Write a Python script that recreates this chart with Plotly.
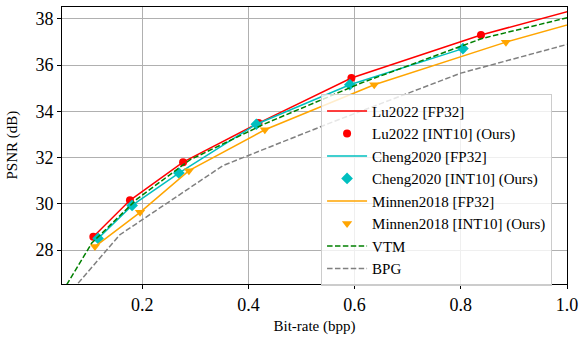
import plotly.graph_objects as go

# ---- data ----
lu_fp32_x = [0.108, 0.177, 0.277, 0.419, 0.594, 0.838, 1.08]
lu_fp32_y = [28.57, 30.15, 31.80, 33.49, 35.44, 37.30, 38.80]
lu_int10_x = [0.108, 0.177, 0.277, 0.419, 0.594, 0.838]
lu_int10_y = [28.57, 30.15, 31.80, 33.49, 35.44, 37.30]

cheng_fp32_x = [0.117, 0.181, 0.269, 0.415, 0.591, 0.804]
cheng_fp32_y = [28.50, 29.93, 31.33, 33.44, 35.15, 36.71]
cheng_int10_x = [0.117, 0.181, 0.269, 0.415, 0.591, 0.804]
cheng_int10_y = [28.50, 29.93, 31.33, 33.44, 35.15, 36.71]

minnen_fp32_x = [0.111, 0.196, 0.288, 0.431, 0.637, 0.885, 1.08]
minnen_fp32_y = [28.15, 29.63, 31.43, 33.20, 35.15, 36.99, 38.25]
minnen_int10_x = [0.111, 0.196, 0.288, 0.431, 0.637, 0.885]
minnen_int10_y = [28.15, 29.63, 31.43, 33.20, 35.15, 36.99]

vtm_x = [0.05, 0.105, 0.19, 0.29, 0.43, 0.61, 0.84, 1.10]
vtm_y = [26.20, 28.30, 30.20, 31.90, 33.45, 35.20, 37.15, 38.60]

bpg_x = [0.06, 0.158, 0.352, 0.56, 0.80, 1.05]
bpg_y = [26.05, 28.66, 31.65, 33.55, 35.65, 37.20]

x_ticks = [0.2, 0.4, 0.6, 0.8, 1.0]
x_tick_labels = ["0.2", "0.4", "0.6", "0.8", "1.0"]
y_ticks = [28, 30, 32, 34, 36, 38]

FONT = "Liberation Serif"
RED, CYAN, ORANGE, GREEN, GRAY = "#ff0000", "#00bfbf", "#ffa500", "#008000", "#808080"
DASH = "5.5px,2.4px"

fig = go.Figure()
fig.add_trace(go.Scatter(x=lu_fp32_x, y=lu_fp32_y, mode="lines", name="Lu2022 [FP32]",
                         line=dict(color=RED, width=1.5)))
fig.add_trace(go.Scatter(x=lu_int10_x, y=lu_int10_y, mode="markers", name="Lu2022 [INT10] (Ours)",
                         marker=dict(color=RED, size=8, symbol="circle")))
fig.add_trace(go.Scatter(x=cheng_fp32_x, y=cheng_fp32_y, mode="lines", name="Cheng2020 [FP32]",
                         line=dict(color=CYAN, width=1.5)))
fig.add_trace(go.Scatter(x=cheng_int10_x, y=cheng_int10_y, mode="markers", name="Cheng2020 [INT10] (Ours)",
                         marker=dict(color=CYAN, size=9, symbol="diamond")))
fig.add_trace(go.Scatter(x=minnen_fp32_x, y=minnen_fp32_y, mode="lines", name="Minnen2018 [FP32]",
                         line=dict(color=ORANGE, width=1.5)))
fig.add_trace(go.Scatter(x=minnen_int10_x, y=minnen_int10_y, mode="markers", name="Minnen2018 [INT10] (Ours)",
                         marker=dict(color=ORANGE, size=9, symbol="triangle-down")))
fig.add_trace(go.Scatter(x=vtm_x, y=vtm_y, mode="lines", name="VTM",
                         line=dict(color=GREEN, width=1.5, dash=DASH)))
fig.add_trace(go.Scatter(x=bpg_x, y=bpg_y, mode="lines", name="BPG",
                         line=dict(color=GRAY, width=1.5, dash=DASH)))

axis_common = dict(
    showline=True, linecolor="black", linewidth=1, mirror=True,
    ticks="outside", ticklen=4, tickwidth=1, tickcolor="black",
    showgrid=True, gridcolor="#b0b0b0", gridwidth=1.2,
    zeroline=False,
    tickfont=dict(family=FONT, size=18, color="black"),
)

fig.update_layout(
    width=585, height=337,
    margin=dict(l=62, r=18, t=6, b=50),
    paper_bgcolor="white", plot_bgcolor="white",
    font=dict(family=FONT, color="black"),
    showlegend=True,
    legend=dict(
        x=0.513, y=0.687, xanchor="left", yanchor="top",
        bgcolor="rgba(255,255,255,0.8)", bordercolor="#cccccc", borderwidth=1,
        font=dict(family=FONT, size=15, color="black"),
        tracegroupgap=0, itemwidth=40,
    ),
    xaxis=dict(range=[0.049, 1.0], tickvals=x_ticks, ticktext=x_tick_labels,
               title=dict(text="Bit-rate (bpp)", font=dict(family=FONT, size=15), standoff=6),
               **axis_common),
    yaxis=dict(range=[26.53, 38.51], tickvals=y_ticks, **axis_common),
    annotations=[dict(text="PSNR (dB)", xref="paper", yref="paper",
                      x=-0.099, y=0.5, xanchor="center", yanchor="middle",
                      textangle=-90, showarrow=False,
                      font=dict(family=FONT, size=15, color="black"))],
)

fig.write_html("out.html")
